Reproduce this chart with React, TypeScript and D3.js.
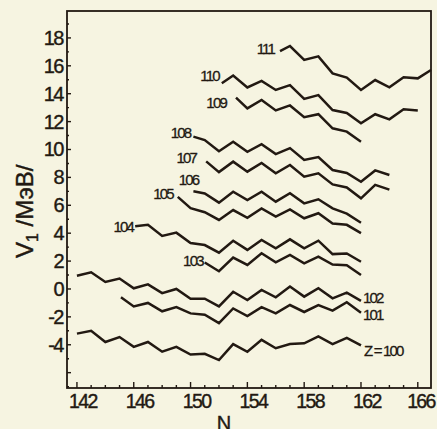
import React, { useEffect, useRef } from 'react';
import * as d3 from 'd3';

// tick values
const xTicks = [142, 146, 150, 154, 158, 162, 166];
const yTicks = [-4, -2, 0, 2, 4, 6, 8, 10, 12, 14, 16, 18];

// V1 (MeV) against neutron number N, one line per proton number Z
const z100: [number, number][] = [
  [142, -3.2], [143, -3.0], [144, -3.8], [145, -3.45], [146, -4.15], [147, -3.8],
  [148, -4.5], [149, -4.15], [150, -4.7], [151, -4.65], [152, -5.1], [153, -3.95],
  [154, -4.5], [155, -3.65], [156, -4.25], [157, -3.95], [158, -3.9], [159, -3.4],
  [160, -3.95], [161, -3.5], [162, -4.05],
];
const z101: [number, number][] = [
  [145.1, -0.6], [146, -1.25], [147, -1.0], [148, -1.6], [149, -1.3], [150, -1.75],
  [151, -1.85], [152, -2.45], [153, -1.4], [154, -1.95], [155, -1.3], [156, -1.75],
  [157, -1.15], [158, -1.65], [159, -1.15], [160, -1.55], [161, -0.95], [162, -1.7],
];
const z102: [number, number][] = [
  [142, 0.95], [143, 1.2], [144, 0.5], [145, 0.75], [146, 0.05], [147, 0.33],
  [148, -0.3], [149, 0.0], [150, -0.7], [151, -0.7], [152, -1.25], [153, -0.2],
  [154, -0.8], [155, -0.07], [156, -0.6], [157, 0.17], [158, -0.55], [159, 0.05],
  [160, -0.67], [161, -0.26], [162, -0.85],
];
const z103: [number, number][] = [
  [151, 1.9], [152, 1.27], [153, 2.25], [154, 1.72], [155, 2.56], [156, 1.91],
  [157, 2.44], [158, 1.84], [159, 2.32], [160, 1.75], [161, 1.7], [162, 1.0],
];
const z104: [number, number][] = [
  [146.1, 4.5], [147, 4.6], [148, 3.8], [149, 4.04], [150, 3.3], [151, 3.15],
  [152, 2.6], [153, 3.46], [154, 2.8], [155, 3.51], [156, 2.92], [157, 3.56],
  [158, 2.92], [159, 3.46], [160, 2.5], [161, 2.55], [162, 1.95],
];
const z105: [number, number][] = [
  [149.1, 6.6], [150, 5.8], [151, 5.5], [152, 4.95], [153, 5.66], [154, 5.1],
  [155, 5.78], [156, 5.19], [157, 5.71], [158, 5.07], [159, 5.43], [160, 4.7],
  [161, 4.6], [162, 4.0],
];
const z106: [number, number][] = [
  [150.2, 7.0], [151, 6.85], [152, 6.19], [153, 6.97], [154, 6.38], [155, 6.97],
  [156, 6.26], [157, 6.86], [158, 6.14], [159, 6.43], [160, 5.78], [161, 5.4],
  [162, 4.75],
];
const z107: [number, number][] = [
  [151.1, 9.15], [152, 8.38], [153, 9.13], [154, 8.41], [155, 9.03], [156, 8.3],
  [157, 8.89], [158, 8.05], [159, 8.29], [160, 7.5], [161, 7.28], [162, 6.5],
  [163, 7.46], [164, 7.12],
];
const z108: [number, number][] = [
  [150.2, 10.92], [151, 10.68], [152, 9.88], [153, 10.56], [154, 9.84], [155, 10.38],
  [156, 9.67], [157, 10.1], [158, 9.25], [159, 9.46], [160, 8.53], [161, 8.32],
  [162, 7.69], [163, 8.5], [164, 8.17],
];
const z109: [number, number][] = [
  [153.2, 13.72], [154, 12.95], [155, 13.55], [156, 12.8], [157, 13.16], [158, 12.32],
  [159, 12.53], [160, 11.52], [161, 11.28], [162, 10.55],
];
const z110: [number, number][] = [
  [152.2, 14.75], [153, 15.3], [154, 14.45], [155, 14.92], [156, 14.27], [157, 14.62],
  [158, 13.63], [159, 13.9], [160, 12.83], [161, 12.62], [162, 11.88], [163, 12.53],
  [164, 12.16], [165, 12.89], [166, 12.8],
];
const z111: [number, number][] = [
  [156.3, 17.05], [157, 17.42], [158, 16.42], [159, 16.68], [160, 15.46], [161, 15.15],
  [162, 14.27], [163, 14.98], [164, 14.46], [165, 15.18], [166, 15.1], [166.93, 15.7],
];

const series = [
  { label: 'Z = 100', points: z100 },
  { label: '101', points: z101 },
  { label: '102', points: z102 },
  { label: '103', points: z103 },
  { label: '104', points: z104 },
  { label: '105', points: z105 },
  { label: '106', points: z106 },
  { label: '107', points: z107 },
  { label: '108', points: z108 },
  { label: '109', points: z109 },
  { label: '110', points: z110 },
  { label: '111', points: z111 },
];

// where each label sits: at line start (left) or end (right), with a small nudge
const labelPlacement: Record<string, { side: 'start' | 'end'; dx: number; dy: number }> = {
  'Z = 100': { side: 'end', dx: 3, dy: 5.5 },
  '101': { side: 'end', dx: 2, dy: 2 },
  '102': { side: 'end', dx: 2, dy: -3 },
  '103': { side: 'start', dx: -2, dy: -1 },
  '104': { side: 'start', dx: -2, dy: 1 },
  '105': { side: 'start', dx: -5, dy: -3 },
  '106': { side: 'start', dx: 5, dy: -11 },
  '107': { side: 'start', dx: -10, dy: -3 },
  '108': { side: 'start', dx: -3, dy: -4 },
  '109': { side: 'start', dx: -10, dy: 5 },
  '110': { side: 'start', dx: -3, dy: -7 },
  '111': { side: 'start', dx: -6, dy: -2 },
};

const W = 437;
const H = 429;
const ink = '#221912';

const App: React.FC = () => {
  const svgRef = useRef<SVGSVGElement>(null);

  useEffect(() => {
    if (!svgRef.current) return;
    const svg = d3.select(svgRef.current);
    svg.selectAll('*').remove();

    const left = 67, right = 431, top = 11, bottom = 388;

    const x = d3.scaleLinear().domain([141.3, 166.93]).range([left, right]);
    const y = d3.scaleLinear().domain([-7.1, 19.93]).range([bottom, top]);

    svg.append('rect')
      .attr('width', W).attr('height', H)
      .attr('fill', '#f6f4e1');

    // frame
    svg.append('rect')
      .attr('x', left).attr('y', top)
      .attr('width', right - left).attr('height', bottom - top)
      .attr('fill', 'none')
      .attr('stroke', ink)
      .attr('stroke-width', 1.8);

    // x ticks (inward), every integer
    const xMinor = d3.range(142, 167);
    svg.append('g').selectAll('line')
      .data(xMinor)
      .enter()
      .append('line')
      .attr('x1', d => x(d)).attr('x2', d => x(d))
      .attr('y1', bottom)
      .attr('y2', d => bottom - (d % 4 === 2 ? 6 : 3))
      .attr('stroke', ink)
      .attr('stroke-width', 1.4);

    // y ticks (inward)
    const yMinor = d3.range(-7, 20);
    svg.append('g').selectAll('line')
      .data(yMinor)
      .enter()
      .append('line')
      .attr('x1', left).attr('x2', d => left + (d % 2 === 0 ? 4 : 2))
      .attr('y1', d => y(d)).attr('y2', d => y(d))
      .attr('stroke', ink)
      .attr('stroke-width', 1.4);

    const font = "'Liberation Sans', Arial, sans-serif";

    svg.append('g').selectAll('text')
      .data(xTicks)
      .enter()
      .append('text')
      .attr('x', d => Math.min(x(d) + 6, 421))
      .attr('y', 408)
      .attr('text-anchor', 'middle')
      .attr('font-family', font)
      .attr('font-size', 19.5)
      .attr('letter-spacing', -1.6)
      .attr('fill', ink)
      .attr('stroke', ink)
      .attr('stroke-width', 0.4)
      .text(d => d);

    svg.append('g').selectAll('text')
      .data(yTicks)
      .enter()
      .append('text')
      .attr('x', 63)
      .attr('y', d => y(d) + 7)
      .attr('text-anchor', 'end')
      .attr('font-family', font)
      .attr('font-size', 20)
      .attr('letter-spacing', -1.5)
      .attr('fill', ink)
      .attr('stroke', ink)
      .attr('stroke-width', 0.4)
      .text(d => (d < 0 ? '-' + Math.abs(d) : String(d)));

    // axis titles
    svg.append('text')
      .attr('x', 224).attr('y', 430)
      .attr('text-anchor', 'middle')
      .attr('font-family', font)
      .attr('font-size', 20)
      .attr('fill', ink)
      .attr('stroke', ink)
      .attr('stroke-width', 0.4)
      .text('N');

    const yTitle = svg.append('text')
      .attr('transform', 'translate(33,258) rotate(-90)')
      .attr('font-family', font)
      .attr('font-size', 24)
      .attr('fill', ink)
      .attr('stroke', ink)
      .attr('stroke-width', 0.4);
    yTitle.append('tspan').text('V');
    yTitle.append('tspan').attr('font-size', 16).attr('dy', 5).text('1');
    yTitle.append('tspan').attr('dy', -5).text(' /МэВ/');

    // lines
    const line = d3.line<[number, number]>()
      .x(d => x(d[0]))
      .y(d => y(d[1]));

    svg.append('g').selectAll('path')
      .data(series)
      .enter()
      .append('path')
      .attr('d', d => line(d.points))
      .attr('fill', 'none')
      .attr('stroke', ink)
      .attr('stroke-width', 2.5)
      .attr('stroke-linejoin', 'miter');

    // series labels
    svg.append('g').selectAll('text')
      .data(series)
      .enter()
      .append('text')
      .each(function (d) {
        const p = labelPlacement[d.label];
        const pt = p.side === 'start' ? d.points[0] : d.points[d.points.length - 1];
        d3.select(this)
          .attr('x', x(pt[0]) + p.dx)
          .attr('y', y(pt[1]) + p.dy + 5)
          .attr('text-anchor', p.side === 'start' ? 'end' : 'start');
      })
      .attr('font-family', font)
      .attr('font-size', 15)
      .attr('letter-spacing', -1.8)
      .attr('fill', ink)
      .attr('stroke', ink)
      .attr('stroke-width', 0.3)
      .text(d => d.label);
  }, []);

  return (
    <svg
      ref={svgRef}
      width={W}
      height={H}
      style={{ position: 'absolute', left: 0, top: 0 }}
    />
  );
};

export default App;
